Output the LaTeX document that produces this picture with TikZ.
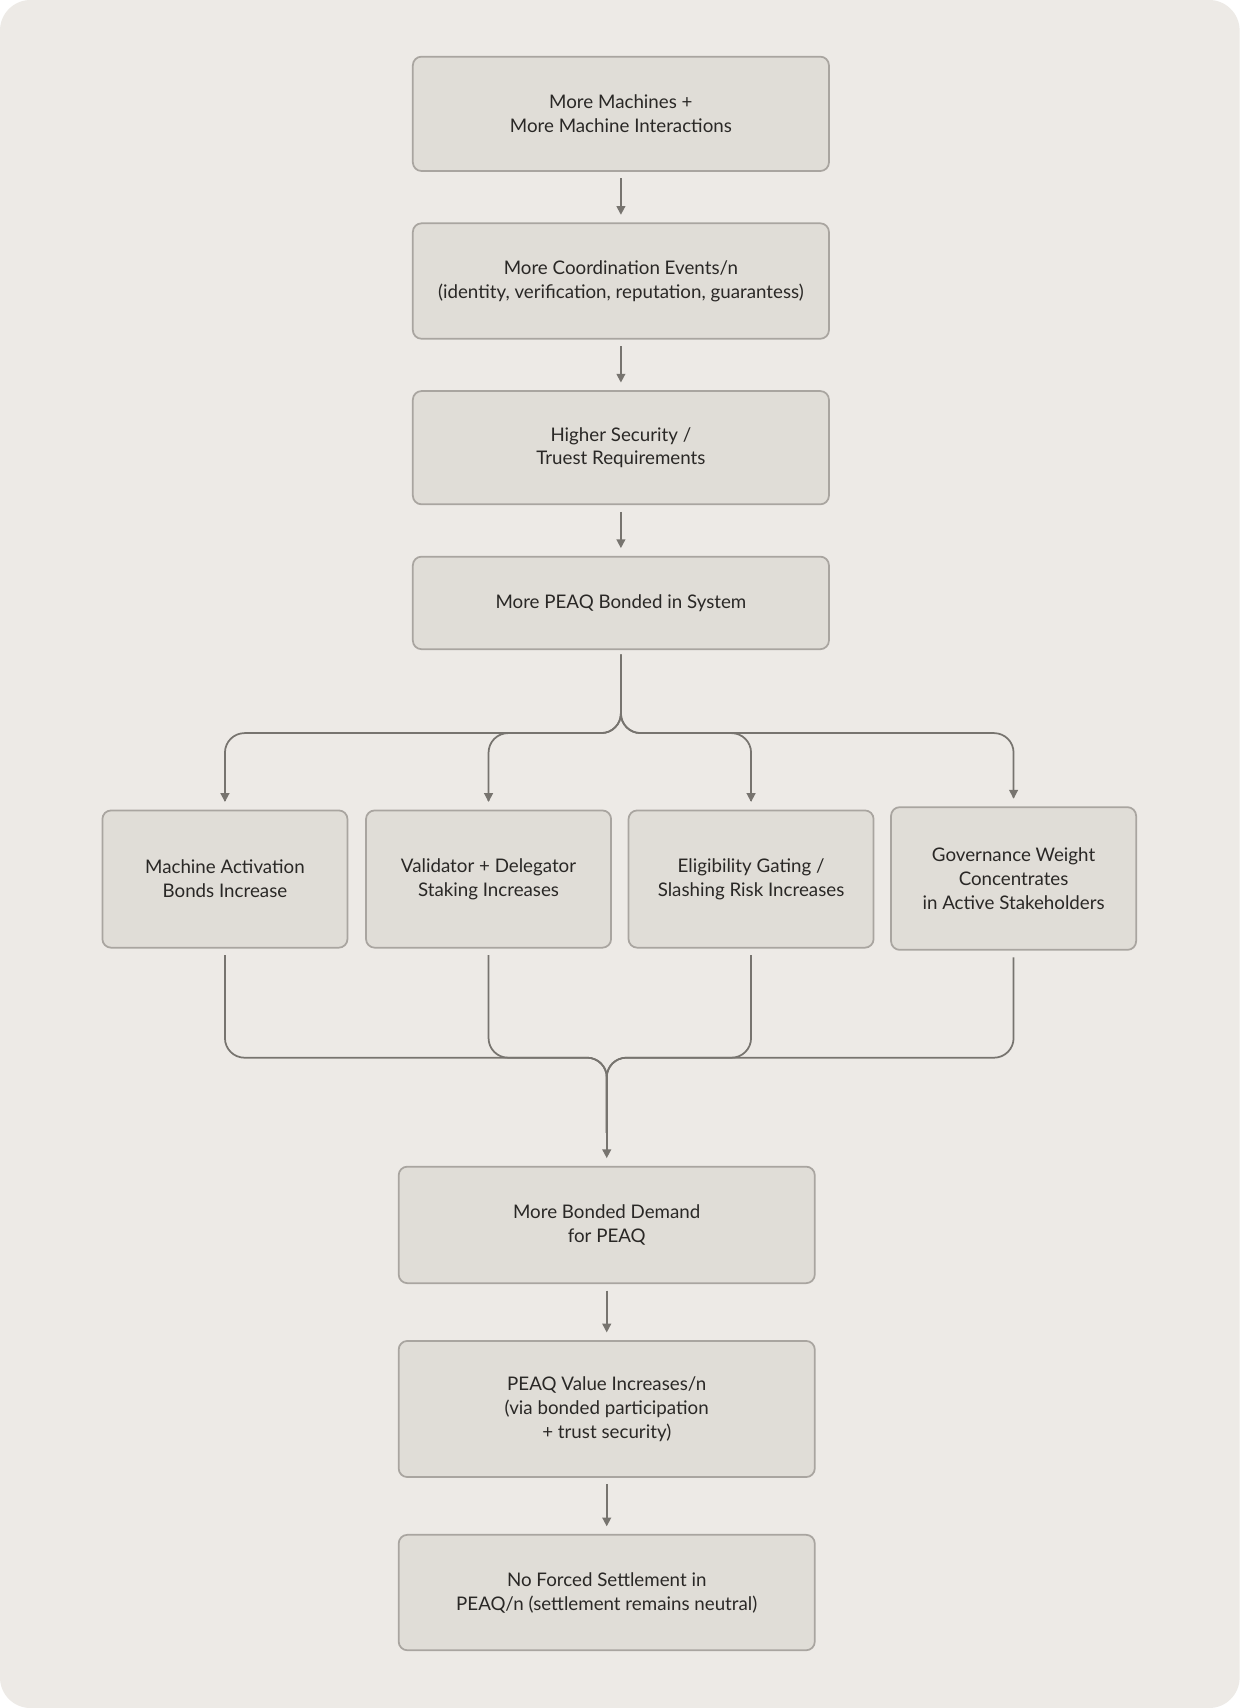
\documentclass[tikz,border=0pt]{standalone}
\usepackage{fontspec}
\setmainfont{Lato}
\usetikzlibrary{arrows.meta}
\definecolor{bg}{HTML}{EDEAE6}
\definecolor{boxf}{HTML}{E0DDD7}
\definecolor{boxd}{HTML}{A9A5A0}
\definecolor{ln}{HTML}{77746F}
\definecolor{tx}{HTML}{2A2826}
\begin{document}
\begin{tikzpicture}[x=0.5pt,y=-0.5pt,
 box/.style={draw=boxd,line width=0.8pt,fill=boxf,rounded corners=4pt,align=center,text=tx,
   font=\fontsize{8.6}{11}\selectfont,inner sep=0pt},
 big/.style={box,minimum width=191pt},
 small/.style={box,minimum width=112.5pt,minimum height=63pt},
 ar/.style={draw=ln,line width=0.8pt,-{Triangle[length=4pt,width=4pt]}},
 ln/.style={draw=ln,line width=0.8pt,rounded corners=9pt}]
\useasboundingbox (0,0) rectangle (1138,1568);
\fill[white] (0,0) rectangle (1138,1568);
\fill[bg,rounded corners=14pt] (0,0) rectangle (1138,1568);
\node[big,minimum height=52.5pt] (b1) at (570,104.5) {More Machines +\\More Machine Interactions};
\node[big,minimum height=53pt] (b2) at (570,258) {More Coordination Events/n\\(identity, verification, reputation, guarantess)};
\node[big,minimum height=52pt] (b3) at (570,411) {Higher Security /\\Truest Requirements};
\node[big,minimum height=42.5pt] (b4) at (570,553.5) {More PEAQ Bonded in System};
\node[small] (a) at (206.5,807) {Machine Activation\\Bonds Increase};
\node[small] (b) at (448.5,807) {Validator + Delegator\\Staking Increases};
\node[small] (c) at (689.5,807) {Eligibility Gating /\\Slashing Risk Increases};
\node[small,minimum height=65.5pt] (d) at (930.5,806.5) {Governance Weight\\Concentrates\\in Active Stakeholders};
\node[big,minimum height=53.5pt] (b5) at (557,1124.5) {More Bonded Demand\\for PEAQ};
\node[big,minimum height=62.5pt] (b6) at (557,1293.5) {PEAQ Value Increases/n\\(via bonded participation\\+ trust security)};
\node[big,minimum height=53pt] (b7) at (557,1462) {No Forced Settlement in\\PEAQ/n (settlement remains neutral)};
\draw[ar] ([yshift=-3pt]b1.south) -- ([yshift=3.5pt]b2.north);
\draw[ar] ([yshift=-3pt]b2.south) -- ([yshift=3.5pt]b3.north);
\draw[ar] ([yshift=-3pt]b3.south) -- ([yshift=3.5pt]b4.north);
\draw[ar] ([yshift=-3pt]b5.south) -- ([yshift=3.5pt]b6.north);
\draw[ar] ([yshift=-3pt]b6.south) -- ([yshift=3.5pt]b7.north);
\coordinate (s) at (570,601);
\coordinate (sj) at (570,673);
\foreach \n in {a,b,c,d}{
  \draw[ln] (s) -- (sj) -- (\n.north |- sj) -- ([yshift=4pt]\n.north);
  \draw[ar] ([yshift=5pt]\n.north) -- ([yshift=3.5pt]\n.north);
}
\coordinate (mj) at (557,971);
\foreach \n in {a,b,c}{
  \draw[ln] ([yshift=-3pt]\n.south) -- (\n.south |- mj) -- (mj) -- (557,1040);
}
\draw[ln] ([yshift=-3pt]d.south) -- (d.south |- mj) -- (mj) -- (557,1040);
\draw[ar] (557,1030) -- ([yshift=3.5pt]b5.north);
\end{tikzpicture}
\end{document}
